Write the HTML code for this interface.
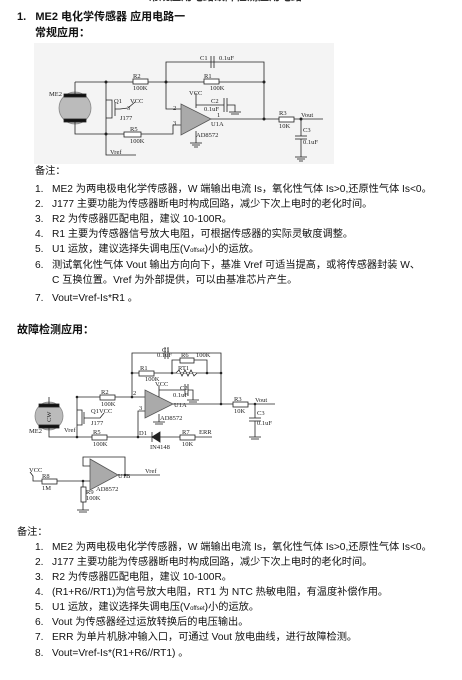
<!DOCTYPE html>
<html><head><meta charset="utf-8"><style>
body{margin:0;width:462px;height:680px;background:#fff;position:relative;overflow:hidden;font-family:"Liberation Sans","Noto Sans CJK SC",sans-serif;color:#111}
.t{position:absolute;font-size:10.2px;line-height:12px;white-space:nowrap}
.b{font-weight:bold;font-size:11px}
svg{position:absolute;left:0;top:0}
svg text{font-family:"Liberation Serif",serif;font-size:6.5px;fill:#222}
</style></head><body>
<div class="t b" style="left:148px;top:-9px;color:#333">常规应用电路故障检测应用电路</div>
<div class="t b" style="left:17px;top:11px">1.&nbsp;&nbsp;&nbsp;ME2 电化学传感器 应用电路一</div>
<div class="t b" style="left:35px;top:27px">常规应用：</div>
<div style="position:absolute;left:34px;top:43px;width:300px;height:121px;background:#f4f4f4"></div>

<svg width="462" height="680" viewBox="0 0 462 680" fill="none" stroke="#222" stroke-width="0.8">
<polyline points="166,81 166,62 264,62 264,119"/>
<line x1="211" y1="56" x2="211" y2="68"/><line x1="214" y1="56" x2="214" y2="68"/>
<line x1="75" y1="82" x2="264" y2="82"/>
<rect x="133" y="79" width="15" height="5" fill="#fff"/><rect x="204" y="79" width="15" height="5" fill="#fff"/>
<circle cx="75" cy="108" r="16" fill="#bbb" stroke="#888"/>
<rect x="64" y="94" width="22" height="3" fill="#111"/><rect x="64" y="119" width="22" height="3" fill="#111"/>
<line x1="75" y1="82" x2="75" y2="94"/><polyline points="75,122 75,134 173,134 173,125 181,125"/>
<polyline points="106,82 106,155 136,155"/>
<polyline points="106,100 112,100 112,118 106,118"/><line x1="115" y1="102" x2="115" y2="116"/>
<polyline points="115,109 120,109 128,108 135,102"/>
<rect x="124" y="132" width="17" height="5" fill="#fff"/>
<polyline points="166,82 166,109 181,109"/>
<polygon points="181,104 181,135 211,119" fill="#aaa" stroke="#555"/>
<line x1="211" y1="119" x2="323" y2="119"/>
<rect x="279" y="117" width="15" height="5" fill="#fff"/>
<line x1="196" y1="93" x2="196" y2="108"/><line x1="196" y1="105" x2="224" y2="105"/>
<line x1="224" y1="98" x2="224" y2="112"/><line x1="227" y1="98" x2="227" y2="112"/>
<polyline points="227,105 235,105 235,112"/><line x1="229" y1="112" x2="241" y2="112"/><line x1="231" y1="114" x2="239" y2="114"/>
<line x1="196" y1="131" x2="196" y2="143"/><line x1="190" y1="143" x2="202" y2="143"/><line x1="192" y1="145" x2="200" y2="145"/><line x1="194" y1="147" x2="198" y2="147"/>
<line x1="301" y1="119" x2="301" y2="136"/><line x1="295" y1="136" x2="307" y2="136"/><line x1="295" y1="139" x2="307" y2="139"/>
<line x1="301" y1="139" x2="301" y2="157"/><line x1="295" y1="157" x2="307" y2="157"/><line x1="297" y1="159" x2="305" y2="159"/><line x1="299" y1="161" x2="303" y2="161"/>
<g fill="#222" stroke="none"><circle cx="106" cy="82" r="1.5"/><circle cx="166" cy="82" r="1.5"/><circle cx="264" cy="82" r="1.5"/><circle cx="264" cy="119" r="1.5"/><circle cx="106" cy="134" r="1.5"/><circle cx="301" cy="119" r="1.5"/></g>
<g stroke="none">
<text x="200" y="60">C1</text><text x="219" y="60">0.1uF</text>
<text x="133" y="78">R2</text><text x="133" y="90">100K</text><text x="204" y="78">R1</text><text x="210" y="90">100K</text>
<text x="49" y="96">ME2</text><text x="114" y="103">Q1</text><text x="130" y="103">VCC</text><text x="127" y="110">3</text><text x="120" y="120">J177</text>
<text x="130" y="131">R5</text><text x="130" y="143">100K</text><text x="110" y="154">Vref</text>
<text x="189" y="95">VCC</text><text x="211" y="103">C2</text><text x="204" y="111">0.1uF</text>
<text x="173" y="110">2</text><text x="173" y="125">3</text><text x="217" y="117">1</text><text x="211" y="126">U1A</text><text x="196" y="137">AD8572</text>
<text x="279" y="115">R3</text><text x="279" y="128">10K</text><text x="301" y="117">Vout</text><text x="303" y="132">C3</text><text x="303" y="144">0.1uF</text>
</g>

<polyline points="132,397 132,353 221,353 221,404"/>
<line x1="165" y1="347" x2="165" y2="359"/><line x1="168" y1="347" x2="168" y2="359"/>
<line x1="132" y1="373" x2="221" y2="373"/>
<rect x="139" y="371" width="15" height="5" fill="#fff"/>
<polyline points="172,373 172,360 207,360 207,373"/><rect x="180" y="358" width="14" height="5" fill="#fff"/>
<polyline points="176,373 179,370 182,376 185,370 188,376 191,370 194,376 197,373" fill="#fff"/>
<line x1="77" y1="397" x2="145" y2="397"/><rect x="100" y="395" width="15" height="5" fill="#fff"/>
<circle cx="49" cy="416" r="14" fill="#bbb" stroke="#888"/>
<rect x="39" y="404" width="20" height="3" fill="#111"/><rect x="39" y="425" width="20" height="3" fill="#111"/>
<polyline points="49,404 49,397"/><polyline points="49,428 49,437 212,437"/>
<line x1="77" y1="397" x2="77" y2="437"/>
<polyline points="77,410 82,410 82,425 77,425"/><line x1="84" y1="412" x2="84" y2="424"/><polyline points="84,418 100,418 104,413"/>
<rect x="92" y="435" width="15" height="5" fill="#fff"/>
<polygon points="160,432 160,442 152,437" fill="#222"/><line x1="152" y1="432" x2="152" y2="442"/>
<rect x="180" y="435" width="15" height="5" fill="#fff"/>
<polyline points="145,411 138,411 138,437"/>
<polygon points="145,390 145,418 173,404" fill="#aaa" stroke="#555"/>
<line x1="173" y1="404" x2="275" y2="404"/><rect x="233" y="402" width="15" height="5" fill="#fff"/>
<line x1="159" y1="385" x2="159" y2="397"/><line x1="159" y1="390" x2="185" y2="390"/>
<line x1="185" y1="384" x2="185" y2="396"/><line x1="188" y1="384" x2="188" y2="396"/><polyline points="188,390 193,390 193,400"/><line x1="187" y1="400" x2="199" y2="400"/><line x1="189" y1="402" x2="197" y2="402"/>
<line x1="159" y1="414" x2="159" y2="422"/><line x1="153" y1="422" x2="165" y2="422"/><line x1="155" y1="424" x2="163" y2="424"/>
<line x1="255" y1="404" x2="255" y2="418"/><line x1="249" y1="418" x2="261" y2="418"/><line x1="249" y1="421" x2="261" y2="421"/><line x1="255" y1="421" x2="255" y2="437"/><line x1="249" y1="437" x2="261" y2="437"/><line x1="251" y1="439" x2="259" y2="439"/>
<polygon points="90,459 90,490 118,475" fill="#aaa" stroke="#555"/>
<polyline points="90,466 83,466 83,457 125,457 125,475"/>
<line x1="118" y1="475" x2="160" y2="475"/>
<polyline points="30,472 33,476 33,481 90,481"/><rect x="42" y="479" width="15" height="5" fill="#fff"/>
<line x1="83" y1="481" x2="83" y2="510"/><rect x="81" y="487" width="5" height="15" fill="#fff"/>
<line x1="77" y1="510" x2="89" y2="510"/><line x1="79" y1="512" x2="87" y2="512"/>
<g fill="#222" stroke="none"><circle cx="132" cy="373" r="1.3"/><circle cx="172" cy="373" r="1.3"/><circle cx="207" cy="373" r="1.3"/><circle cx="221" cy="373" r="1.3"/><circle cx="221" cy="404" r="1.3"/><circle cx="132" cy="397" r="1.3"/><circle cx="77" cy="397" r="1.3"/><circle cx="77" cy="437" r="1.3"/><circle cx="138" cy="437" r="1.3"/><circle cx="255" cy="404" r="1.3"/><circle cx="83" cy="481" r="1.3"/><circle cx="125" cy="475" r="1.3"/></g>
<g stroke="none" style="font-size:5.5px">
<text x="162" y="352">C1</text><text x="157" y="357">0.1uF</text><text x="181" y="357">R6</text><text x="196" y="357">100K</text><text x="178" y="370">RT1</text>
<text x="140" y="370">R1</text><text x="145" y="381">100K</text><text x="155" y="386">VCC</text><text x="180" y="390">C2</text><text x="173" y="397">0.1uF</text>
<text x="101" y="394">R2</text><text x="101" y="406">100K</text><text x="133" y="395">2</text><text x="139" y="410">3</text><text x="174" y="407">U1A</text><text x="160" y="420">AD8572</text>
<text x="91" y="413">Q1VCC</text><text x="91" y="425">J177</text><text x="64" y="432">Vref</text><text x="29" y="433">ME2</text><text x="42" y="419" transform="rotate(-90 48 416)">CW</text>
<text x="93" y="434">R5</text><text x="93" y="446">100K</text><text x="139" y="435">D1</text><text x="150" y="449">IN4148</text>
<text x="182" y="434">R7</text><text x="182" y="446">10K</text><text x="199" y="434">ERR</text>
<text x="234" y="401">R3</text><text x="234" y="413">10K</text><text x="255" y="402">Vout</text><text x="257" y="415">C3</text><text x="257" y="425">0.1uF</text>
<text x="29" y="472">VCC</text><text x="42" y="478">R8</text><text x="42" y="490">1M</text><text x="86" y="494">R9</text><text x="86" y="500">100K</text>
<text x="118" y="478">U1B</text><text x="145" y="473">Vref</text><text x="96" y="491">AD8572</text>
</g>
</svg>

<div class="t" style="left:35px;top:166px">备注：</div>
<div class="t" style="left:35px;top:184px">1.&nbsp;&nbsp;&nbsp;ME2 为两电极电化学传感器，W 端输出电流 Is，氧化性气体 Is&gt;0,还原性气体 Is&lt;0。</div>
<div class="t" style="left:35px;top:199px">2.&nbsp;&nbsp;&nbsp;J177 主要功能为传感器断电时构成回路，减少下次上电时的老化时间。</div>
<div class="t" style="left:35px;top:214px">3.&nbsp;&nbsp;&nbsp;R2 为传感器匹配电阻，建议 10-100R。</div>
<div class="t" style="left:35px;top:229px">4.&nbsp;&nbsp;&nbsp;R1 主要为传感器信号放大电阻，可根据传感器的实际灵敏度调整。</div>
<div class="t" style="left:35px;top:244px">5.&nbsp;&nbsp;&nbsp;U1 运放，建议选择失调电压(V<span style="font-size:6px">offset</span>)小的运放。</div>
<div class="t" style="left:35px;top:260px">6.&nbsp;&nbsp;&nbsp;测试氧化性气体 Vout 输出方向向下，基准 Vref 可适当提高，或将传感器封装 W、</div>
<div class="t" style="left:52px;top:275px">C 互换位置。Vref 为外部提供，可以由基准芯片产生。</div>
<div class="t" style="left:35px;top:293px">7.&nbsp;&nbsp;&nbsp;Vout=Vref-Is*R1 。</div>
<div class="t b" style="left:17px;top:324px">故障检测应用：</div>

<div class="t" style="left:17px;top:527px">备注：</div>
<div class="t" style="left:35px;top:542px">1.&nbsp;&nbsp;&nbsp;ME2 为两电极电化学传感器，W 端输出电流 Is，氧化性气体 Is&gt;0,还原性气体 Is&lt;0。</div>
<div class="t" style="left:35px;top:557px">2.&nbsp;&nbsp;&nbsp;J177 主要功能为传感器断电时构成回路，减少下次上电时的老化时间。</div>
<div class="t" style="left:35px;top:572px">3.&nbsp;&nbsp;&nbsp;R2 为传感器匹配电阻，建议 10-100R。</div>
<div class="t" style="left:35px;top:587px">4.&nbsp;&nbsp;&nbsp;(R1+R6//RT1)为信号放大电阻，RT1 为 NTC 热敏电阻，有温度补偿作用。</div>
<div class="t" style="left:35px;top:602px">5.&nbsp;&nbsp;&nbsp;U1 运放，建议选择失调电压(V<span style="font-size:6px">offset</span>)小的运放。</div>
<div class="t" style="left:35px;top:617px">6.&nbsp;&nbsp;&nbsp;Vout 为传感器经过运放转换后的电压输出。</div>
<div class="t" style="left:35px;top:632px">7.&nbsp;&nbsp;&nbsp;ERR 为单片机脉冲输入口，可通过 Vout 放电曲线，进行故障检测。</div>
<div class="t" style="left:35px;top:648px">8.&nbsp;&nbsp;&nbsp;Vout=Vref-Is*(R1+R6//RT1) 。</div>
</body></html>
